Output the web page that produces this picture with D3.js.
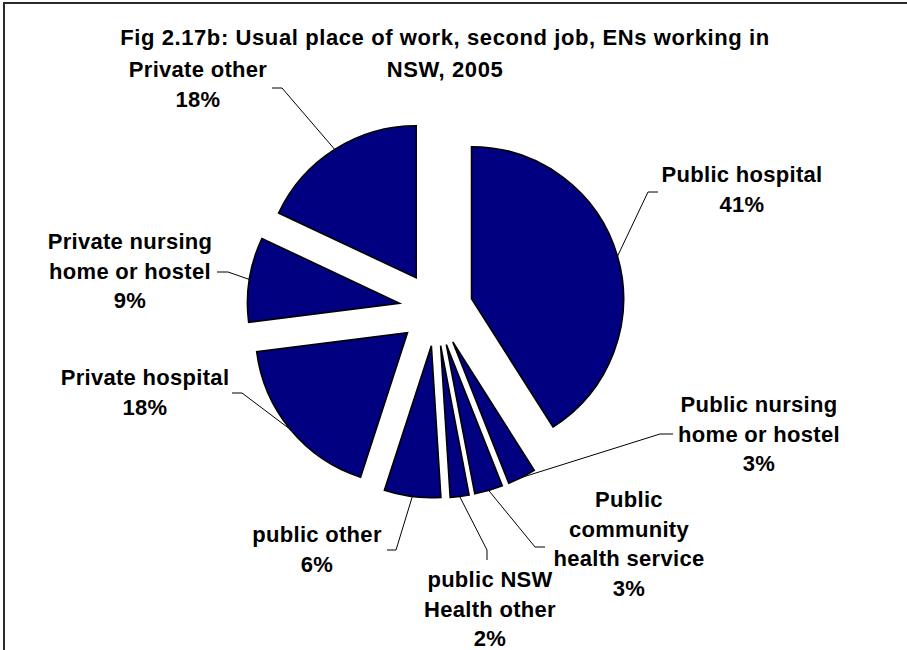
<!DOCTYPE html>
<html>
<head>
<meta charset="utf-8">
<script src="https://cdn.jsdelivr.net/npm/d3@7"></script>
<style>
  html, body { margin: 0; padding: 0; background: #fff; }
  svg { display: block; }
  text { font-family: "Liberation Sans", Arial, sans-serif; font-weight: bold; fill: #000; }
</style>
</head>
<body>
<svg id="chart" width="907" height="650"></svg>
<script>
// Usual place of work, second job, ENs working in NSW, 2005 (percent)
const categories = [
  "Public hospital",
  "Public nursing home or hostel",
  "Public community health service",
  "public NSW Health other",
  "public other",
  "Private hospital",
  "Private nursing home or hostel",
  "Private other"
];
const values = [41, 3, 3, 2, 6, 18, 9, 18];

// How each label is broken into lines
const labelLines = [
  ["Public hospital"],
  ["Public nursing", "home or hostel"],
  ["Public", "community", "health service"],
  ["public NSW", "Health other"],
  ["public other"],
  ["Private hospital"],
  ["Private nursing", "home or hostel"],
  ["Private other"]
];

const titleLines = ["Fig 2.17b: Usual place of work, second job, ENs working in", "NSW, 2005"];

// Label placement: text centre x, first baseline y, leader elbow and leader end next to the text
const labelLayout = [
  { x: 742, y: 182,   elbow: [648, 192], end: [658, 192] },
  { x: 759, y: 412,   elbow: [660, 434], end: [673, 434] },
  { x: 629, y: 507,   elbow: [535, 547], end: [545, 547] },
  { x: 490, y: 587,   elbow: [487, 550], end: [487, 560] },
  { x: 317, y: 542,   elbow: [396, 550], end: [387, 550] },
  { x: 145, y: 385,   elbow: [242, 393], end: [232, 393] },
  { x: 130, y: 249,   elbow: [228, 272], end: [217, 272] },
  { x: 198, y: 77,    elbow: [282, 88],  end: [272, 88] }
];

const svg = d3.select("#chart");
const cx = 436, cy = 309, radius = 152, explode = 37;
const lineGap = 29.7;

// Outer frame of the chart area
svg.append("rect")
  .attr("x", 4).attr("y", 3)
  .attr("width", 1200).attr("height", 1200)
  .attr("fill", "none")
  .attr("stroke", "#2a2a2a")
  .attr("stroke-width", 2);

// Title
svg.append("text")
  .attr("text-anchor", "middle")
  .attr("font-size", 22)
  .attr("letter-spacing", 0.6)
  .selectAll("tspan")
  .data(titleLines)
  .join("tspan")
  .attr("x", 445)
  .attr("y", (d, i) => 45 + i * 32)
  .text(d => d);

const data = categories.map((c, i) => ({ name: c, value: values[i], lines: labelLines[i], layout: labelLayout[i] }));

const pie = d3.pie().sort(null).value(d => d.value).startAngle(0).endAngle(2 * Math.PI);
const arcs = pie(data);
const arc = d3.arc().innerRadius(0).outerRadius(radius);

const dirOf = a => { const m = (a.startAngle + a.endAngle) / 2; return [Math.sin(m), -Math.cos(m)]; };

const g = svg.append("g").attr("transform", `translate(${cx},${cy})`);

// Exploded slices
g.selectAll("path.slice")
  .data(arcs)
  .join("path")
  .attr("class", "slice")
  .attr("d", arc)
  .attr("transform", d => { const [dx, dy] = dirOf(d); return `translate(${dx * explode},${dy * explode})`; })
  .attr("fill", "#000080")
  .attr("stroke", "#000")
  .attr("stroke-width", 1.6)
  .attr("stroke-linejoin", "miter");

// Leader lines from the middle of each arc to its label
svg.selectAll("path.leader")
  .data(arcs)
  .join("path")
  .attr("class", "leader")
  .attr("d", d => {
    const [dx, dy] = dirOf(d);
    const sx = cx + dx * (explode + radius), sy = cy + dy * (explode + radius);
    const L = d.data.layout;
    return `M${sx},${sy}L${L.elbow[0]},${L.elbow[1]}L${L.end[0]},${L.end[1]}`;
  })
  .attr("fill", "none")
  .attr("stroke", "#000")
  .attr("stroke-width", 1);

// Labels: category name lines followed by the percentage
const labels = svg.selectAll("text.label")
  .data(arcs)
  .join("text")
  .attr("class", "label")
  .attr("text-anchor", "middle")
  .attr("font-size", 22)
  .attr("letter-spacing", 0.3);

labels.selectAll("tspan")
  .data(d => d.data.lines.concat([d.data.value + "%"]).map((t, i) => ({ t, i, L: d.data.layout })))
  .join("tspan")
  .attr("x", d => d.L.x)
  .attr("y", d => d.L.y + d.i * lineGap)
  .text(d => d.t);
</script>
</body>
</html>
